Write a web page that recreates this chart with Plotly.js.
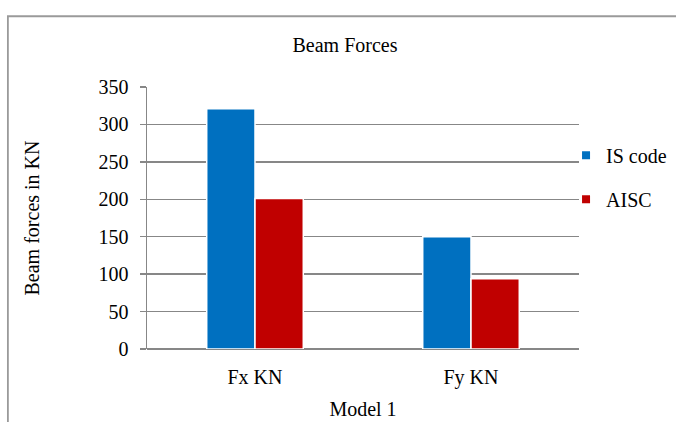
<!DOCTYPE html>
<html>
<head>
<meta charset="utf-8">
<script src="https://cdn.plot.ly/plotly-3.0.1.min.js"></script>
<style>html,body{margin:0;padding:0;background:#fff}#chart{width:676px;height:422px}</style>
</head>
<body>
<div id="chart"></div>
<script>
const categories = ["Fx KN", "Fy KN"];
const seriesNames = ["IS code", "AISC"];
const isCode = [321, 150];
const aisc = [201, 94];
const yTicks = [0, 50, 100, 150, 200, 250, 300, 350];

const colors = ["#0070C0", "#C00000"];
const font = "Liberation Serif, Times New Roman, serif";
const fs = 20;

const traces = [
  {type: "bar", x: categories, y: isCode, name: seriesNames[0], showlegend: false,
   marker: {color: colors[0], line: {color: "#ffffff", width: 1.5}}},
  {type: "bar", x: categories, y: aisc, name: seriesNames[1], showlegend: false,
   marker: {color: colors[1], line: {color: "#ffffff", width: 1.5}}},
  {type: "scatter", mode: "markers", x: [null], y: [null], name: seriesNames[0],
   legendgroup: "a", marker: {symbol: "square", size: 8, color: colors[0]}},
  {type: "scatter", mode: "markers", x: [null], y: [null], name: seriesNames[1],
   legendgroup: "b", marker: {symbol: "square", size: 8, color: colors[1]}}
];

const layout = {
  width: 676, height: 422,
  margin: {l: 147, r: 97, t: 87, b: 73, autoexpand: false},
  paper_bgcolor: "#ffffff", plot_bgcolor: "#ffffff",
  font: {family: font, size: fs, color: "#000000"},
  title: {text: "Beam Forces", font: {family: font, size: fs, color: "#000"},
          x: 345/676, xanchor: "center", y: 1 - 45/422, yanchor: "middle"},
  barmode: "group", bargap: 0.553, bargroupgap: 0,
  xaxis: {
    type: "category", automargin: false,
    showline: false, showgrid: false, ticks: "",
    ticklabelstandoff: 14,
    tickfont: {family: font, size: fs},
    title: {text: "Model 1", font: {family: font, size: fs}, standoff: 13}
  },
  yaxis: {
    automargin: false,
    range: [0, 350], tickvals: yTicks, ticktext: yTicks.map(String),
    showgrid: true, gridcolor: "#878787", gridwidth: 1.5,
    showline: true, linecolor: "#878787", linewidth: 1.5,
    ticks: "outside", ticklen: 6, tickcolor: "#878787", tickwidth: 1.5,
    ticklabelstandoff: 7,
    zeroline: true, zerolinecolor: "#878787", zerolinewidth: 1.5,
    tickfont: {family: font, size: fs},
    title: {text: "Beam forces in KN", font: {family: font, size: fs}, standoff: 53}
  },
  legend: {x: 0.970, xanchor: "left", y: 0.656, yanchor: "middle",
           font: {family: font, size: fs}, tracegroupgap: 15,
           traceorder: "grouped", bgcolor: "rgba(0,0,0,0)"},
  shapes: [{type: "rect", xref: "paper", yref: "paper",
            x0: -0.322, x1: 1.4, y0: -0.45, y1: 1.27,
            line: {color: "#9a9a9a", width: 1.8}, fillcolor: "rgba(0,0,0,0)"}],
  showlegend: true
};

Plotly.newPlot("chart", traces, layout, {displayModeBar: false, staticPlot: true});
</script>
</body>
</html>
